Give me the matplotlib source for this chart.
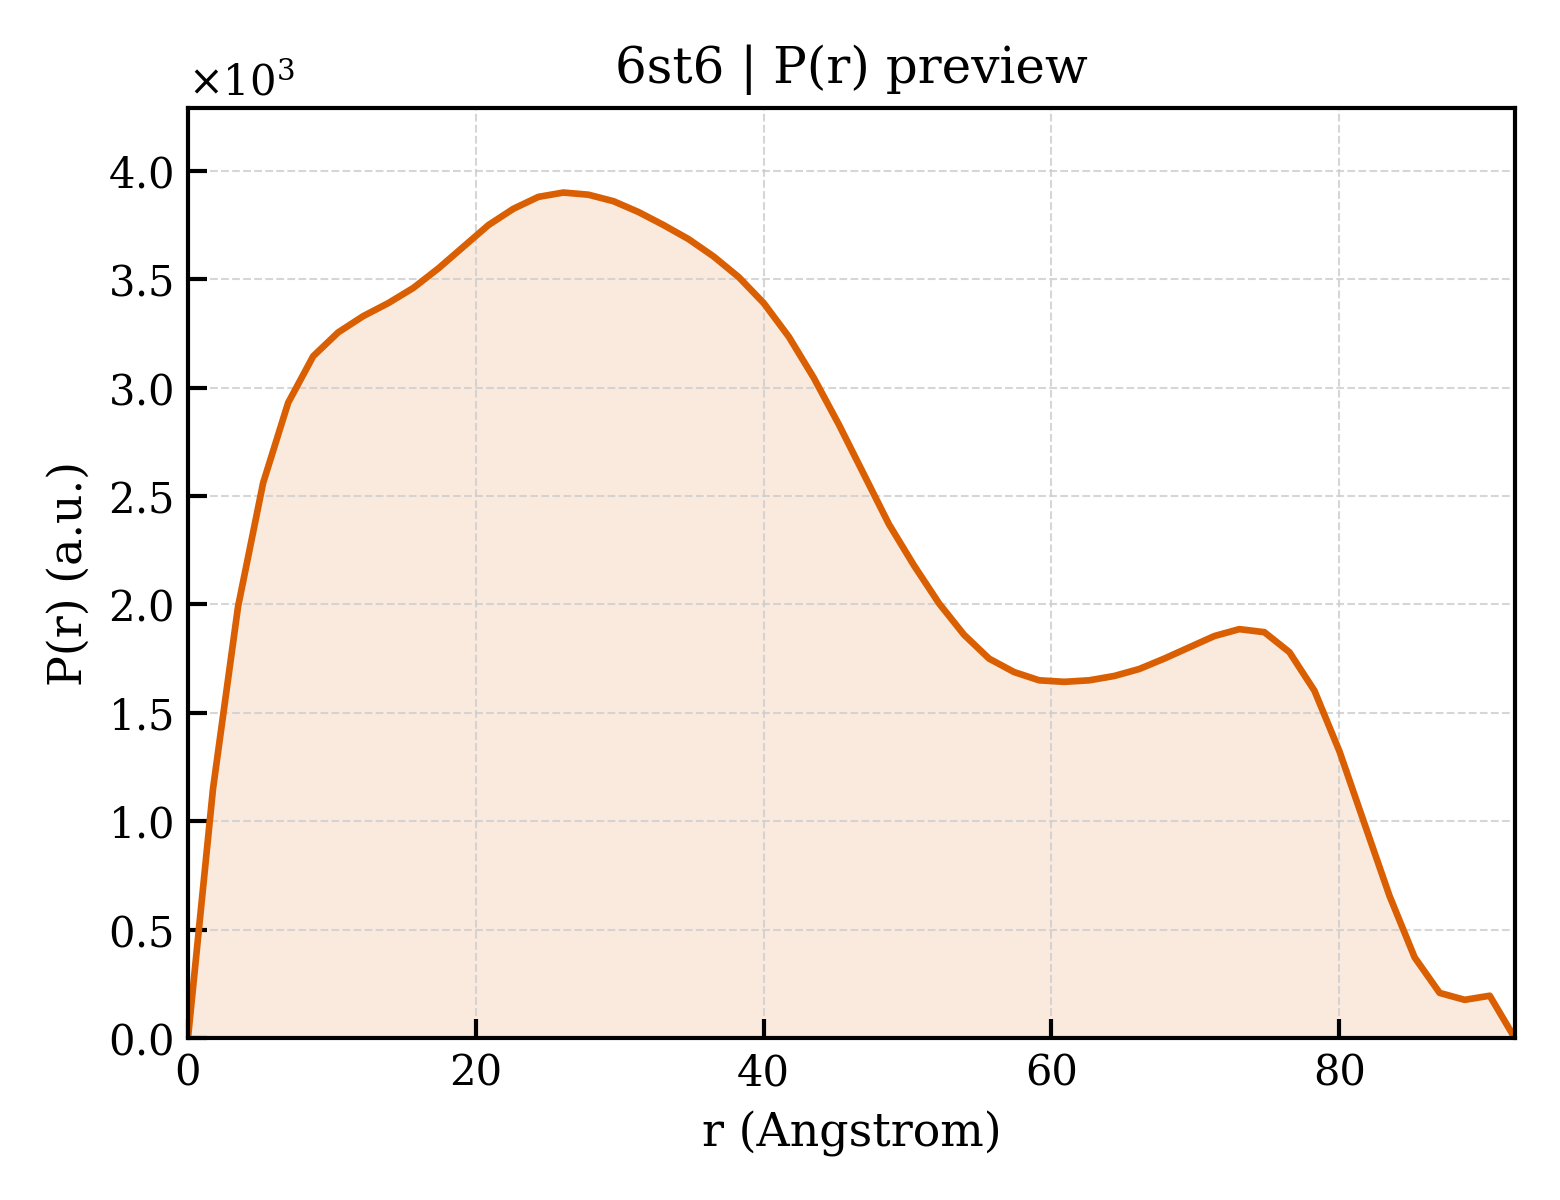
import numpy as np
import matplotlib
matplotlib.use('Agg')
import matplotlib.pyplot as plt

# P(r) preview for 6st6
r = [0.0, 1.74, 3.48, 5.22, 6.96, 8.70, 10.44, 12.18, 13.92, 15.66,
     17.40, 19.14, 20.88, 22.61, 24.35, 26.09, 27.83, 29.57, 31.31, 33.05,
     34.79, 36.53, 38.27, 40.01, 41.75, 43.49, 45.23, 46.97, 48.71, 50.45,
     52.19, 53.93, 55.67, 57.41, 59.15, 60.89, 62.63, 64.37, 66.10, 67.84,
     69.58, 71.32, 73.06, 74.80, 76.54, 78.28, 80.02, 81.76, 83.50, 85.24,
     86.98, 88.72, 90.46, 92.20]
pr = [0, 1150, 1990, 2560, 2930, 3145, 3255, 3330, 3390, 3460,
      3550, 3650, 3750, 3825, 3880, 3900, 3890, 3860, 3810, 3750,
      3685, 3605, 3510, 3390, 3235, 3045, 2830, 2600, 2370, 2180,
      2005, 1860, 1750, 1688, 1650, 1643, 1650, 1670, 1702, 1750,
      1802, 1854, 1886, 1872, 1780, 1602, 1322, 988, 655, 372,
      208, 176, 195, 0]

color = '#D95F02'

plt.rcParams['font.family'] = 'DejaVu Serif'
plt.rcParams['mathtext.fontset'] = 'dejavuserif'

fig = plt.figure(figsize=(5.2, 4), dpi=300)
ax = fig.add_axes([0.1205, 0.135, 0.8505, 0.775])

ax.fill_between(r, pr, 0, color=color, alpha=0.13, lw=0)
ax.plot(r, pr, color=color, lw=1.6)

ax.set_xlim(0, r[-1])
ax.set_ylim(0, max(pr) * 1.1)
ax.set_xticks([0, 20, 40, 60, 80])
ax.set_yticks(np.arange(0, 4001, 500))

ax.ticklabel_format(axis='y', style='sci', scilimits=(0, 0), useMathText=True)
ax.yaxis.get_offset_text().set_fontsize(10)

ax.grid(True, ls='--', lw=0.5, color='#cccccc', alpha=0.8)
ax.tick_params(direction='in', length=4.5, width=1, labelsize=10,
               top=False, right=False)
for s in ax.spines.values():
    s.set_linewidth(1)

ax.set_xlabel('r (Angstrom)', fontsize=11)
ax.set_ylabel('P(r) (a.u.)', fontsize=11)
ax.set_title('6st6 | P(r) preview', fontsize=12)

fig.savefig('out.png', dpi=300)
